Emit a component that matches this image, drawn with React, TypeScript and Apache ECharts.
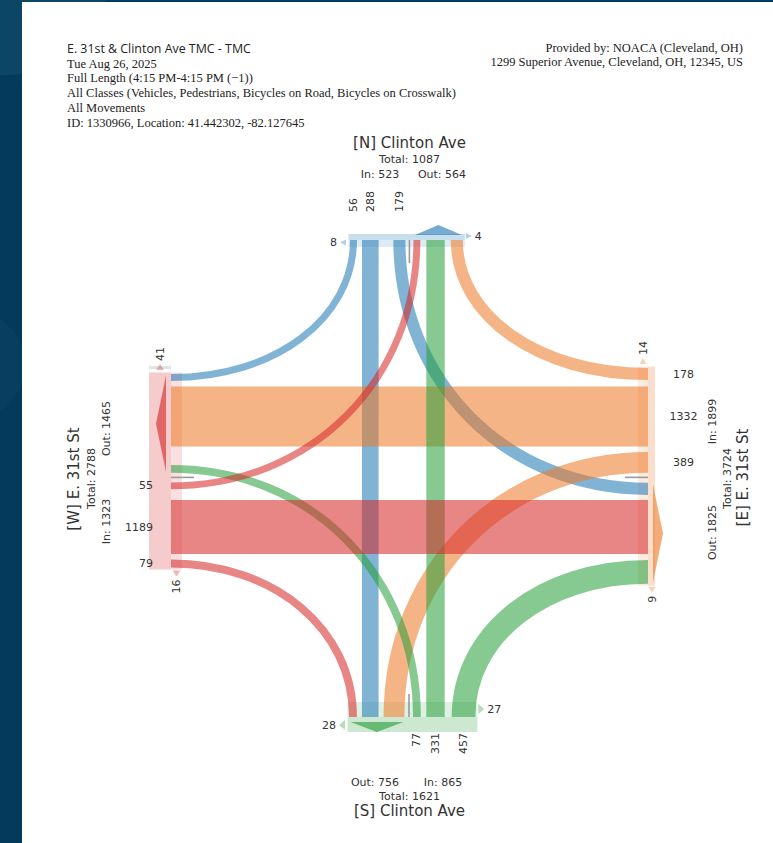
import React, { useEffect, useRef } from "react";
import * as echarts from "echarts";

// ---------------- data ----------------
const approachCodes = ["N", "E", "S", "W"];
const legStreets = ["Clinton Ave", "E. 31st St", "Clinton Ave", "E. 31st St"];
const rightTurns = [56, 178, 457, 79];
const throughs = [288, 1332, 331, 1189];
const leftTurns = [179, 389, 77, 55];
const uTurns = [0, 0, 0, 0];
const pedsFirst = [8, 14, 28, 41];
const pedsSecond = [4, 9, 27, 16];
const headerTitle = "E. 31st & Clinton Ave TMC - TMC";
const headerLines = [
  "Tue Aug 26, 2025",
  "Full Length (4:15 PM-4:15 PM (\u22121))",
  "All Classes (Vehicles, Pedestrians, Bicycles on Road, Bicycles on Crosswalk)",
  "All Movements",
  "ID: 1330966, Location: 41.442302, -82.127645",
];
const providerLines = ["Provided by: NOACA (Cleveland, OH)", "1299 Superior Avenue, Cleveland, OH, 12345, US"];

// ---------------- style / layout ----------------
const W = 773;
const H = 843;
const BASE: any = { N: [31, 119, 180], E: [238, 122, 40], S: [40, 158, 58], W: [214, 39, 40] };
const BAND_ALPHA = 0.56;
const FONT = "DejaVu Sans";
const TXT = "#333333";
const CX = 409.5;
const CY = 478;
const EDGE: any = { N: 240, E: 648, S: 717, W: 171 };
const SLOTS: any = {
  N: { start: 350, items: [["N_R", 0], ["N_T", 5], ["N_L", 14.7], ["N_U", 4], ["W_L", 4], ["S_T", 6], ["E_R", 6]] },
  E: { start: 368, items: [["E_R", 0], ["E_T", 6.44], ["E_L", 5.5], ["E_U", 4.6], ["N_L", 5.5], ["W_T", 5.04], ["S_R", 6]] },
  S: { start: 349, items: [["W_R", 0], ["N_T", 5], ["E_L", 5], ["S_U", 4.6], ["S_L", 4], ["S_T", 5.43], ["S_R", 7]] },
  W: { start: 374, items: [["N_R", 0], ["E_T", 5.5], ["S_L", 18.5], ["W_U", 4.6], ["W_L", 5], ["W_T", 10.65], ["W_R", 5.5]] },
};
const BAR_OUT: any = { N: 6, E: 7, S: 15, W: 22 };
const BAR_IN: any = { N: 7, E: 10, S: 15, W: 11 };
const PED_DEPTH: any = { N: [-2.5, 4], E: [-5, 4], S: [8, -8], W: [11, -5.5] };
const PED_HALF: any = { N: 3, E: 3.5, S: 5, W: 4 };
const LABEL_CFG: any = {
  N: { depth: 28, rot: true, align: "left" },
  S: { depth: 16, rot: true, align: "right" },
  W: { depth: 18, rot: false, align: "right" },
  E: { depth: 35.5, rot: false, align: "center" },
};

const laneWidth = (v: number) => (v > 0 ? 4.67 + 0.0415 * v : 0);
const rgba = (c: number[], a: number) => `rgba(${c[0]},${c[1]},${c[2]},${a})`;

const TYPES = ["R", "T", "L", "U"];
const typeValues = [rightTurns, throughs, leftTurns, uTurns];
const exitOffset = [3, 2, 1, 0];
const movements: any[] = [];
approachCodes.forEach((code, i) => {
  TYPES.forEach((t, k) => {
    movements.push({ key: `${code}_${t}`, from: code, to: approachCodes[(i + exitOffset[k]) % 4], type: t, value: typeValues[k][i], ai: i });
  });
});
const valueOf: any = {};
movements.forEach((m) => (valueOf[m.key] = m.value));

// stack lanes along each side
const lanePos: any = {};
approachCodes.forEach((side) => {
  lanePos[side] = {};
  let cur = SLOTS[side].start;
  SLOTS[side].items.forEach(([key, gap]: any) => {
    cur += gap;
    const w = laneWidth(valueOf[key]);
    lanePos[side][key] = { lo: cur, hi: cur + w };
    cur += w;
  });
});

const inTotals = approachCodes.map((c, i) => rightTurns[i] + throughs[i] + leftTurns[i] + uTurns[i]);
const outTotals = approachCodes.map((c) => movements.filter((m) => m.to === c).reduce((s, m) => s + m.value, 0));

function pt(side: string, along: number, depth: number) {
  if (side === "N") return [along, EDGE.N - depth];
  if (side === "S") return [along, EDGE.S + depth];
  if (side === "W") return [EDGE.W - depth, along];
  return [EDGE.E + depth, along];
}

function txt(x: number, y: number, text: string, size: number, opts: any = {}) {
  return {
    type: "text",
    x,
    y,
    rotation: opts.rot ? Math.PI / 2 : 0,
    style: {
      text,
      fill: opts.fill || TXT,
      fontFamily: opts.family || FONT,
      fontSize: size,
      align: opts.align || "center",
      verticalAlign: "middle",
    },
  };
}

export default function App() {
  const ref = useRef<HTMLDivElement>(null);
  useEffect(() => {
    if (!ref.current) return;
    const chart = echarts.init(ref.current, null, { renderer: "svg" });

    const barRender = (params: any, api: any) => {
      const i = params.dataIndex;
      const side = approachCodes[i];
      const col = BASE[side];
      const lanes = Object.entries(lanePos[side]).map(([k, v]: any) => ({ k, ...v }));
      const lo = Math.min(...lanes.map((l: any) => l.lo)) - 1.5;
      const hi = Math.max(...lanes.map((l: any) => l.hi)) + 2;
      const poly = (pts: number[][], fill: string) => ({ type: "polygon", shape: { points: pts.map((p) => api.coord(p)) }, style: { fill } });
      const ch: any[] = [];
      ch.push(poly([pt(side, lo, 0), pt(side, hi, 0), pt(side, hi, BAR_OUT[side]), pt(side, lo, BAR_OUT[side])], rgba(col, 0.24)));
      ch.push(poly([pt(side, lo, -BAR_IN[side]), pt(side, hi, -BAR_IN[side]), pt(side, hi, 0), pt(side, lo, 0)], rgba(col, 0.15)));
      // out triangle
      const outs = movements.filter((m) => m.to === side && m.type !== "U").map((m) => lanePos[side][m.key]);
      const olo = Math.min(...outs.map((l: any) => l.lo)) + 1.5;
      const ohi = Math.max(...outs.map((l: any) => l.hi)) - 1;
      ch.push(poly([pt(side, olo, 5), pt(side, ohi, 5), pt(side, (olo + ohi) / 2, 15)], rgba(col, 0.62)));
      // pedestrians
      const pv = [api.value(1), api.value(2)];
      const hw = PED_HALF[side];
      [0, 1].forEach((j) => {
        const d = PED_DEPTH[side][j];
        const base = j === 0 ? lo - 2.5 : hi + 1;
        const tip = j === 0 ? lo - 8.5 : hi + 7;
        if (side === "W" && j === 0) {
          ch.push(poly([pt(side, lo - 3.5, 0), pt(side, lo - 3.5, BAR_OUT[side]), pt(side, lo - 6.5, BAR_OUT[side]), pt(side, lo - 6.5, 0)], "rgba(150,190,180,0.35)"));
        }
        ch.push(poly([pt(side, base, d - hw), pt(side, base, d + hw), pt(side, tip, d)], rgba(col, 0.35)));
        const la = j === 0 ? tip - 3 : tip + 3;
        const p = api.coord(pt(side, la, d));
        const rot = side === "W" || side === "E";
        ch.push(txt(p[0], p[1], String(pv[j]), 11, { rot, align: j === 0 ? (rot ? "left" : "right") : rot ? "right" : "left" }));
      });
      // leg titles
      const name = `[${side}] ${legStreets[i]}`;
      const tot = `Total: ${inTotals[i] + outTotals[i]}`;
      const tin = `In: ${inTotals[i]}`;
      const tout = `Out: ${outTotals[i]}`;
      const at = (x: number, y: number) => api.coord([x, y]);
      const T = (xy: number[], s: string, size: number, rot = false) => txt(xy[0], xy[1], s, size, { rot });
      if (side === "N") {
        ch.push(T(at(CX, 143), name, 15), T(at(CX, 159), tot, 11), T(at(CX - 29.5, 174), tin, 11), T(at(CX + 32.5, 174), tout, 11));
      } else if (side === "S") {
        ch.push(T(at(CX - 34.5, 782), tout, 11), T(at(CX + 33.5, 782), tin, 11), T(at(CX, 796), tot, 11), T(at(CX, 811), name, 15));
      } else if (side === "W") {
        ch.push(T(at(74, CY + 1), name, 15, true), T(at(91, CY + 0.5), tot, 11, true), T(at(106, CY - 49.5), tout, 11, true), T(at(106, CY + 43.5), tin, 11, true));
      } else {
        ch.push(T(at(742.5, CY - 0.5), name, 15, true), T(at(727, CY + 0.5), tot, 11, true), T(at(712.5, CY - 56.5), tin, 11, true), T(at(712.5, CY + 54.5), tout, 11, true));
      }
      return { type: "group", children: ch };
    };

    const moveRender = (params: any, api: any) => {
      const m = movements[params.dataIndex];
      const v = api.value(2);
      const col = BASE[m.from];
      const a = lanePos[m.from][m.key];
      const b = lanePos[m.to][m.key];
      const ca = (a.lo + a.hi) / 2;
      const cb = (b.lo + b.hi) / 2;
      const ch: any[] = [];
      if (m.type === "U") {
        const p0 = api.coord(pt(m.from, ca, 0));
        const p1 = api.coord(pt(m.from, ca, -23));
        ch.push({ type: "line", shape: { x1: p0[0], y1: p0[1], x2: p1[0], y2: p1[1] }, style: { stroke: "#9a9a9a", lineWidth: 1.6 } });
        return { type: "group", children: ch };
      }
      if (m.type === "T") {
        const pts = [pt(m.from, a.lo, 0), pt(m.from, a.hi, 0), pt(m.to, b.hi, 0), pt(m.to, b.lo, 0)].map((p) => api.coord(p));
        ch.push({ type: "polygon", shape: { points: pts }, style: { fill: rgba(col, BAND_ALPHA) } });
      } else {
        const S = api.coord(pt(m.from, ca, 0));
        const E = api.coord(pt(m.to, cb, 0));
        const vert = m.from === "N" || m.from === "S";
        const C = vert ? [S[0], E[1]] : [E[0], S[1]];
        const t = 0.57;
        const wpx = api.size([laneWidth(v), laneWidth(v)])[0];
        ch.push({
          type: "bezierCurve",
          shape: {
            x1: S[0], y1: S[1], x2: E[0], y2: E[1],
            cpx1: S[0] + t * (C[0] - S[0]), cpy1: S[1] + t * (C[1] - S[1]),
            cpx2: E[0] + t * (C[0] - E[0]), cpy2: E[1] + t * (C[1] - E[1]),
          },
          style: { stroke: rgba(col, BAND_ALPHA), lineWidth: wpx, fill: "none" },
        });
      }
      const lc = LABEL_CFG[m.from];
      const lp = api.coord(pt(m.from, ca, lc.depth));
      ch.push(txt(lp[0], lp[1], String(v), 11, { rot: lc.rot, align: lc.align }));
      return { type: "group", children: ch };
    };

    const serif = "Liberation Serif";
    const graphics: any[] = [
      { type: "circle", shape: { cx: 5, cy: -30, r: 105 }, style: { fill: "#0c4666" }, z: -10 },
      { type: "circle", shape: { cx: -30, cy: 365, r: 55 }, style: { fill: "#083f60" }, z: -10 },
      { type: "rect", shape: { x: 22, y: 2, width: W - 22, height: H - 2 }, style: { fill: "#ffffff" }, z: -9 },
      { type: "text", x: 67, y: 48, style: { text: headerTitle, fill: "#222", fontFamily: "Open Sans", fontSize: 12.4, verticalAlign: "middle" } },
    ];
    headerLines.forEach((s, k) => {
      graphics.push({ type: "text", x: 67, y: 63.5 + k * 14.8, style: { text: s, fill: "#222", fontFamily: serif, fontSize: 12.5, verticalAlign: "middle" } });
    });
    providerLines.forEach((s, k) => {
      graphics.push({ type: "text", x: 743, y: 47.5 + k * 14.5, style: { text: s, fill: "#222", fontFamily: serif, fontSize: 12.5, align: "right", verticalAlign: "middle" } });
    });

    chart.setOption({
      animation: false,
      backgroundColor: "#043a5b",
      grid: { left: 0, top: 0, right: 0, bottom: 0 },
      xAxis: { type: "value", min: 0, max: W, show: false },
      yAxis: { type: "value", min: 0, max: H, inverse: true, show: false },
      graphic: graphics,
      series: [
        {
          type: "custom",
          coordinateSystem: "cartesian2d",
          silent: true,
          renderItem: barRender,
          data: approachCodes.map((c, i) => [i, pedsFirst[i], pedsSecond[i]]),
        },
        {
          type: "custom",
          coordinateSystem: "cartesian2d",
          silent: true,
          renderItem: moveRender,
          data: movements.map((m, k) => [k, m.ai, m.value]),
        },
      ],
    });
    return () => chart.dispose();
  }, []);
  return (
    <div style={{ position: "fixed", left: 0, top: 0, width: W, height: H }}>
      <div ref={ref} style={{ width: W, height: H }} />
    </div>
  );
}
